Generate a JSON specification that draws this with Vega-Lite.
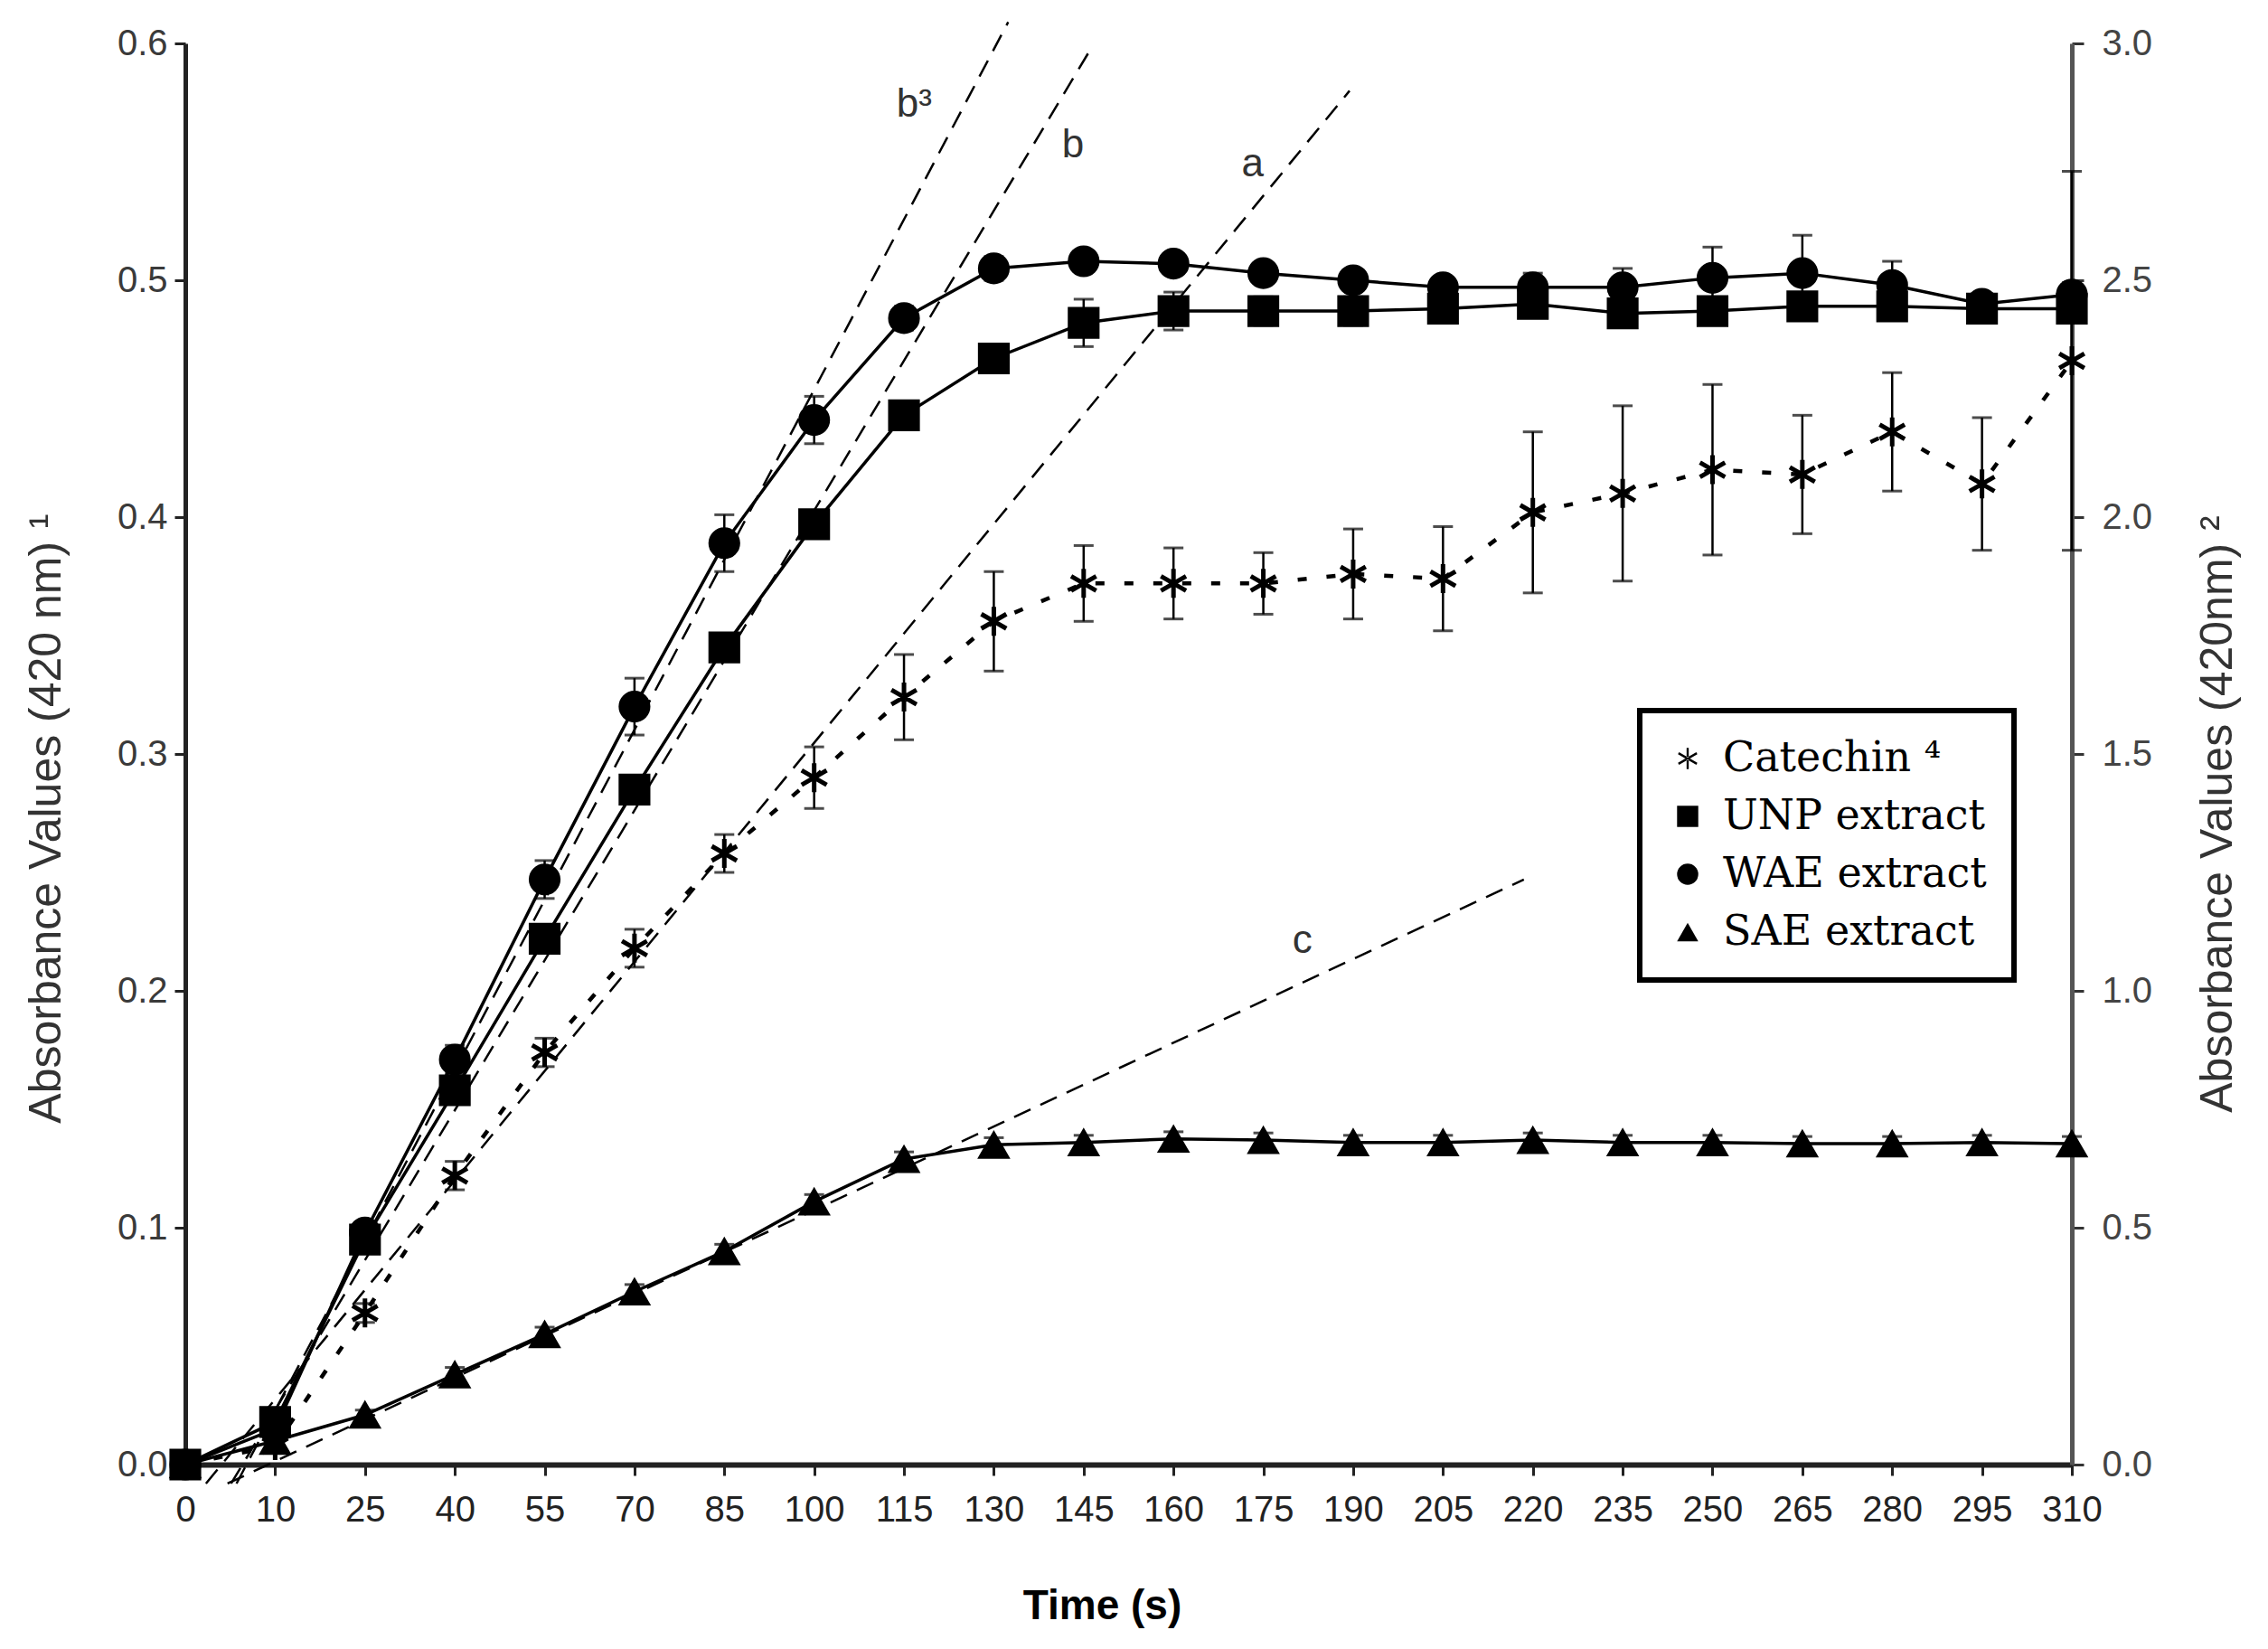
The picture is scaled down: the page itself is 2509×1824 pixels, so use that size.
{
  "$schema": "https://vega.github.io/schema/vega-lite/v6.json",
  "width": 2087,
  "height": 1572,
  "autosize": {"type": "none"},
  "padding": {"left": 205, "top": 48, "right": 217, "bottom": 204},
  "background": "white",
  "datasets": {
    "obs": [
      {"series": "UNP extract", "time": 0, "value": 0, "err": 0},
      {"series": "UNP extract", "time": 10, "value": 0.018, "err": 0.004},
      {"series": "UNP extract", "time": 25, "value": 0.095, "err": 0.005},
      {"series": "UNP extract", "time": 40, "value": 0.158, "err": 0.005},
      {"series": "UNP extract", "time": 55, "value": 0.222, "err": 0.005},
      {"series": "UNP extract", "time": 70, "value": 0.285, "err": 0.004},
      {"series": "UNP extract", "time": 85, "value": 0.345, "err": 0.005},
      {"series": "UNP extract", "time": 100, "value": 0.397, "err": 0.005},
      {"series": "UNP extract", "time": 115, "value": 0.443, "err": 0.004},
      {"series": "UNP extract", "time": 130, "value": 0.467, "err": 0.005},
      {"series": "UNP extract", "time": 145, "value": 0.482, "err": 0.01},
      {"series": "UNP extract", "time": 160, "value": 0.487, "err": 0.008},
      {"series": "UNP extract", "time": 175, "value": 0.487, "err": 0.006},
      {"series": "UNP extract", "time": 190, "value": 0.487, "err": 0.006},
      {"series": "UNP extract", "time": 205, "value": 0.488, "err": 0.006},
      {"series": "UNP extract", "time": 220, "value": 0.49, "err": 0.004},
      {"series": "UNP extract", "time": 235, "value": 0.486, "err": 0.004},
      {"series": "UNP extract", "time": 250, "value": 0.487, "err": 0.004},
      {"series": "UNP extract", "time": 265, "value": 0.489, "err": 0.004},
      {"series": "UNP extract", "time": 280, "value": 0.489, "err": 0.005},
      {"series": "UNP extract", "time": 295, "value": 0.488, "err": 0.004},
      {"series": "UNP extract", "time": 310, "value": 0.488, "err": 0.004},
      {"series": "WAE extract", "time": 0, "value": 0, "err": 0},
      {"series": "WAE extract", "time": 10, "value": 0.015, "err": 0.003},
      {"series": "WAE extract", "time": 25, "value": 0.098, "err": 0.004},
      {"series": "WAE extract", "time": 40, "value": 0.171, "err": 0.006},
      {"series": "WAE extract", "time": 55, "value": 0.247, "err": 0.008},
      {"series": "WAE extract", "time": 70, "value": 0.32, "err": 0.012},
      {"series": "WAE extract", "time": 85, "value": 0.389, "err": 0.012},
      {"series": "WAE extract", "time": 100, "value": 0.441, "err": 0.01},
      {"series": "WAE extract", "time": 115, "value": 0.484, "err": 0.005},
      {"series": "WAE extract", "time": 130, "value": 0.505, "err": 0.005},
      {"series": "WAE extract", "time": 145, "value": 0.508, "err": 0.004},
      {"series": "WAE extract", "time": 160, "value": 0.507, "err": 0.004},
      {"series": "WAE extract", "time": 175, "value": 0.503, "err": 0.004},
      {"series": "WAE extract", "time": 190, "value": 0.5, "err": 0.004},
      {"series": "WAE extract", "time": 205, "value": 0.497, "err": 0.004},
      {"series": "WAE extract", "time": 220, "value": 0.497, "err": 0.006},
      {"series": "WAE extract", "time": 235, "value": 0.497, "err": 0.008},
      {"series": "WAE extract", "time": 250, "value": 0.501, "err": 0.013},
      {"series": "WAE extract", "time": 265, "value": 0.503, "err": 0.016},
      {"series": "WAE extract", "time": 280, "value": 0.498, "err": 0.01},
      {"series": "WAE extract", "time": 295, "value": 0.49, "err": 0.004},
      {"series": "WAE extract", "time": 310, "value": 0.494, "err": 0.005},
      {"series": "SAE extract", "time": 0, "value": 0, "err": 0},
      {"series": "SAE extract", "time": 10, "value": 0.01, "err": 0.002},
      {"series": "SAE extract", "time": 25, "value": 0.021, "err": 0.002},
      {"series": "SAE extract", "time": 40, "value": 0.038, "err": 0.003},
      {"series": "SAE extract", "time": 55, "value": 0.055, "err": 0.003},
      {"series": "SAE extract", "time": 70, "value": 0.073, "err": 0.003},
      {"series": "SAE extract", "time": 85, "value": 0.09, "err": 0.003},
      {"series": "SAE extract", "time": 100, "value": 0.111, "err": 0.003},
      {"series": "SAE extract", "time": 115, "value": 0.129, "err": 0.003},
      {"series": "SAE extract", "time": 130, "value": 0.135, "err": 0.003},
      {"series": "SAE extract", "time": 145, "value": 0.136, "err": 0.003},
      {"series": "SAE extract", "time": 160, "value": 0.1375, "err": 0.003},
      {"series": "SAE extract", "time": 175, "value": 0.137, "err": 0.003},
      {"series": "SAE extract", "time": 190, "value": 0.136, "err": 0.003},
      {"series": "SAE extract", "time": 205, "value": 0.136, "err": 0.003},
      {"series": "SAE extract", "time": 220, "value": 0.137, "err": 0.003},
      {"series": "SAE extract", "time": 235, "value": 0.136, "err": 0.003},
      {"series": "SAE extract", "time": 250, "value": 0.136, "err": 0.003},
      {"series": "SAE extract", "time": 265, "value": 0.1355, "err": 0.003},
      {"series": "SAE extract", "time": 280, "value": 0.1355, "err": 0.003},
      {"series": "SAE extract", "time": 295, "value": 0.136, "err": 0.003},
      {"series": "SAE extract", "time": 310, "value": 0.1355, "err": 0.003}
    ],
    "catechin": [
      {"series": "Catechin", "time": 0, "value": 0, "err": 0},
      {"series": "Catechin", "time": 10, "value": 0.04, "err": 0.01},
      {"series": "Catechin", "time": 25, "value": 0.32, "err": 0.02},
      {"series": "Catechin", "time": 40, "value": 0.61, "err": 0.03},
      {"series": "Catechin", "time": 55, "value": 0.87, "err": 0.03},
      {"series": "Catechin", "time": 70, "value": 1.09, "err": 0.04},
      {"series": "Catechin", "time": 85, "value": 1.29, "err": 0.04},
      {"series": "Catechin", "time": 100, "value": 1.45, "err": 0.065},
      {"series": "Catechin", "time": 115, "value": 1.62, "err": 0.09},
      {"series": "Catechin", "time": 130, "value": 1.78, "err": 0.105},
      {"series": "Catechin", "time": 145, "value": 1.86, "err": 0.08},
      {"series": "Catechin", "time": 160, "value": 1.86, "err": 0.075},
      {"series": "Catechin", "time": 175, "value": 1.86, "err": 0.065},
      {"series": "Catechin", "time": 190, "value": 1.88, "err": 0.095},
      {"series": "Catechin", "time": 205, "value": 1.87, "err": 0.11},
      {"series": "Catechin", "time": 220, "value": 2.01, "err": 0.17},
      {"series": "Catechin", "time": 235, "value": 2.05, "err": 0.185},
      {"series": "Catechin", "time": 250, "value": 2.1, "err": 0.18},
      {"series": "Catechin", "time": 265, "value": 2.09, "err": 0.125},
      {"series": "Catechin", "time": 280, "value": 2.18, "err": 0.125},
      {"series": "Catechin", "time": 295, "value": 2.07, "err": 0.14},
      {"series": "Catechin", "time": 310, "value": 2.33, "err": 0.4}
    ],
    "trendLeft": [
      {"line": "b3", "time": 5.7, "value": -0.008},
      {"line": "b3", "time": 132.4, "value": 0.609},
      {"line": "b", "time": 5.1, "value": -0.008},
      {"line": "b", "time": 146.5, "value": 0.599},
      {"line": "c", "time": 4.7, "value": -0.008},
      {"line": "c", "time": 218.5, "value": 0.247}
    ],
    "trendRight": [
      {"line": "a", "time": 2.3, "value": -0.04},
      {"line": "a", "time": 189.4, "value": 2.9}
    ],
    "labels": [
      {"text": "b³", "time": 116.7, "value": 0.574},
      {"text": "b", "time": 143.2, "value": 0.557},
      {"text": "a", "time": 173.2, "value": 0.549},
      {"text": "c", "time": 181.5, "value": 0.221}
    ]
  },
  "encoding": {
    "x": {
      "field": "time",
      "type": "quantitative",
      "scale": {"domain": [0, 10, 310], "range": [0, 99.38, 2087], "nice": false, "zero": false},
      "axis": {
        "title": "Time (s)",
        "values": [0, 10, 25, 40, 55, 70, 85, 100, 115, 130, 145, 160, 175, 190, 205, 220, 235, 250, 265, 280, 295, 310],
        "grid": false,
        "domainWidth": 6,
        "domainColor": "#222",
        "tickColor": "#222",
        "tickWidth": 3,
        "tickSize": 12,
        "labelPadding": 18,
        "labelFont": "Liberation Sans",
        "labelFontSize": 40,
        "labelColor": "#222",
        "labelFlush": false,
        "labelOverlap": false,
        "titleFont": "Liberation Sans",
        "titleFontSize": 46,
        "titleFontWeight": "bold",
        "titleColor": "black",
        "titleX": 1014,
        "titleY": 156,
        "titleBaseline": "middle"
      }
    }
  },
  "layer": [
    {
      "layer": [
        {
          "data": {"name": "trendLeft"},
          "mark": {"type": "line", "color": "black", "strokeWidth": 2.5, "strokeDash": [20, 12]},
          "encoding": {
            "y": {"field": "value", "type": "quantitative", "title": "Absorbance Values (420 nm) ¹"},
            "detail": {"field": "line"}
          }
        },
        {
          "data": {"name": "labels"},
          "mark": {"type": "text", "font": "Liberation Sans", "fontSize": 44, "color": "#333", "align": "center", "baseline": "middle"},
          "encoding": {
            "y": {"field": "value", "type": "quantitative", "title": "Absorbance Values (420 nm) ¹"},
            "text": {"field": "text"}
          }
        },
        {
          "data": {"name": "obs"},
          "mark": {"type": "errorbar", "color": "black", "ticks": {"size": 22, "thickness": 3, "color": "black"}, "rule": {"strokeWidth": 2.5}},
          "encoding": {
            "y": {"field": "value", "type": "quantitative", "title": "Absorbance Values (420 nm) ¹"},
            "yError": {"field": "err"},
            "detail": {"field": "series"}
          }
        },
        {
          "data": {"name": "obs"},
          "mark": {"type": "line", "color": "black", "strokeWidth": 3.5},
          "encoding": {
            "y": {"field": "value", "type": "quantitative", "title": "Absorbance Values (420 nm) ¹"},
            "detail": {"field": "series"}
          }
        },
        {
          "data": {"name": "obs"},
          "mark": {"type": "point", "filled": true, "fill": "black", "stroke": "black", "strokeWidth": 2, "opacity": 1, "size": 1100},
          "encoding": {
            "y": {
              "field": "value",
              "type": "quantitative",
              "title": "Absorbance Values (420 nm) ¹",
              "scale": {"domain": [0, 0.6], "nice": false, "zero": false},
              "axis": {
                "orient": "left",
                "values": [0, 0.1, 0.2, 0.3, 0.4, 0.5, 0.6],
                "format": ".1f",
                "grid": false,
                "domainWidth": 5,
                "domainColor": "#222",
                "tickColor": "#222",
                "tickWidth": 3,
                "tickSize": 12,
                "labelPadding": 8,
                "labelFont": "Liberation Sans",
                "labelFontSize": 40,
                "labelColor": "#3a3a3a",
                "labelFlush": false,
                "titleFont": "Liberation Sans",
                "titleFontSize": 50,
                "titleFontWeight": "normal",
                "titleColor": "#333",
                "titleAngle": -90,
                "titleX": -154,
                "titleY": 857,
                "titleAlign": "center",
                "titleBaseline": "middle"
              }
            },
            "shape": {
              "field": "series",
              "type": "nominal",
              "scale": {
                "domain": ["Catechin", "UNP extract", "WAE extract", "SAE extract"],
                "range": ["M-0.1,-1L0.1,-1L0.1,1L-0.1,1ZM0.816,0.587L0.916,0.413L-0.816,-0.587L-0.916,-0.413ZM0.916,-0.413L0.816,-0.587L-0.916,0.413L-0.816,0.587Z", "square", "circle", "triangle-up"]
              },
              "legend": {
                "title": null,
                "orient": "none",
                "legendX": 1609,
                "legendY": 738,
                "labelExpr": "datum.label == 'Catechin' ? 'Catechin ⁴' : datum.label",
                "encode": {"symbols": {"update": {"fill": {"value": "black"}, "stroke": {"value": "black"}, "strokeWidth": {"value": 1.5}, "opacity": {"value": 1}}}}
              }
            }
          }
        }
      ]
    },
    {
      "layer": [
        {
          "data": {"name": "trendRight"},
          "mark": {"type": "line", "color": "black", "strokeWidth": 2.5, "strokeDash": [20, 12]},
          "encoding": {
            "y": {"field": "value", "type": "quantitative", "title": "Absorbance Values (420nm) ²"},
            "detail": {"field": "line"}
          }
        },
        {
          "data": {"name": "catechin"},
          "mark": {"type": "errorbar", "color": "black", "ticks": {"size": 22, "thickness": 3, "color": "black"}, "rule": {"strokeWidth": 2.5}},
          "encoding": {
            "y": {"field": "value", "type": "quantitative", "title": "Absorbance Values (420nm) ²"},
            "yError": {"field": "err"}
          }
        },
        {
          "data": {"name": "catechin"},
          "mark": {"type": "line", "color": "black", "strokeWidth": 4.5, "strokeDash": [10, 22]},
          "encoding": {
            "y": {"field": "value", "type": "quantitative", "title": "Absorbance Values (420nm) ²"}
          }
        },
        {
          "data": {"name": "catechin"},
          "mark": {"type": "point", "filled": true, "fill": "black", "stroke": "black", "strokeWidth": 2, "opacity": 1, "size": 900},
          "encoding": {
            "y": {
              "field": "value",
              "type": "quantitative",
              "title": "Absorbance Values (420nm) ²",
              "scale": {"domain": [0, 3], "nice": false, "zero": false},
              "axis": {
                "orient": "right",
                "values": [0, 0.5, 1, 1.5, 2, 2.5, 3],
                "format": ".1f",
                "grid": false,
                "domainWidth": 5,
                "domainColor": "#555",
                "tickColor": "#333",
                "tickWidth": 3,
                "tickSize": 13,
                "labelPadding": 20,
                "labelFont": "Liberation Sans",
                "labelFontSize": 40,
                "labelColor": "#444",
                "labelFlush": false,
                "titleFont": "Liberation Sans",
                "titleFontSize": 50,
                "titleFontWeight": "normal",
                "titleColor": "#333",
                "titleAngle": -90,
                "titleX": 161,
                "titleY": 852,
                "titleAlign": "center",
                "titleBaseline": "middle"
              }
            },
            "shape": {
              "field": "series",
              "type": "nominal",
              "scale": {
                "domain": ["Catechin", "UNP extract", "WAE extract", "SAE extract"],
                "range": ["M-0.1,-1L0.1,-1L0.1,1L-0.1,1ZM0.816,0.587L0.916,0.413L-0.816,-0.587L-0.916,-0.413ZM0.916,-0.413L0.816,-0.587L-0.916,0.413L-0.816,0.587Z", "square", "circle", "triangle-up"]
              },
              "legend": {
                "title": null,
                "orient": "none",
                "legendX": 1609,
                "legendY": 738,
                "labelExpr": "datum.label == 'Catechin' ? 'Catechin ⁴' : datum.label",
                "encode": {"symbols": {"update": {"fill": {"value": "black"}, "stroke": {"value": "black"}, "strokeWidth": {"value": 1.5}, "opacity": {"value": 1}}}}
              }
            }
          }
        }
      ]
    }
  ],
  "resolve": {"scale": {"y": "independent"}},
  "config": {
    "view": {"stroke": null},
    "legend": {
      "strokeColor": "black",
      "strokeWidth": 6,
      "fillColor": "white",
      "padding": 30,
      "labelFont": "DejaVu Serif",
      "labelFontSize": 46,
      "labelColor": "black",
      "labelLimit": 600,
      "symbolSize": 550,
      "symbolFillColor": "black",
      "symbolStrokeColor": "black",
      "symbolStrokeWidth": 1.5,
      "rowPadding": 18,
      "labelOffset": 16
    }
  }
}
